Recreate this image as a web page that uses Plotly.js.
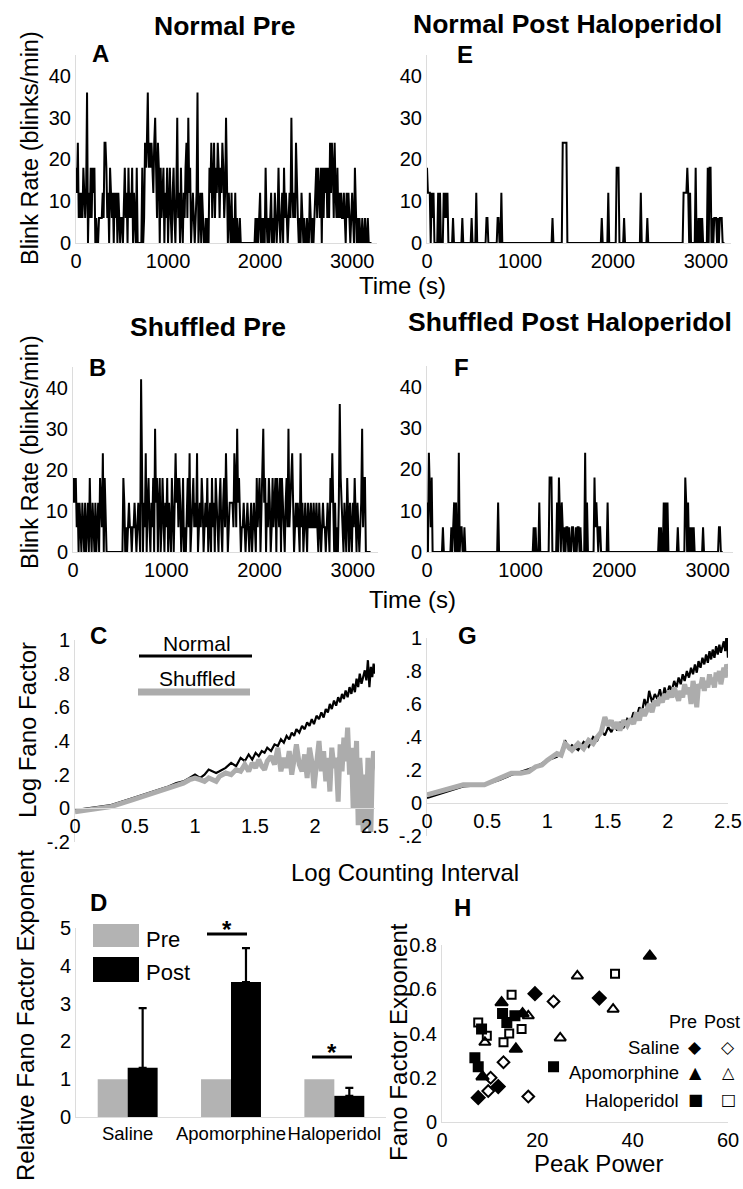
<!DOCTYPE html>
<html><head><meta charset="utf-8">
<script src="https://cdn.plot.ly/plotly-3.0.1.min.js"></script>
<style>html,body{margin:0;padding:0;background:#fff}#chart{width:743px;height:1189px}</style>
</head><body><div id="chart"></div>
<script>
// ---------------- DATA ----------------
const sampleStep = 10; // s between blink-rate samples

// A: Normal Pre (blinks/min)
const normalPre = [
18,12,24,6,12,6,12,6,18,12, 6,12,36,0,12,6,18,6,18,12, 18,0,6,0,0,6,6,6,6,12,
6,24,24,18,6,12,0,18,12,6, 12,0,12,6,12,0,12,6,0,6, 6,0,12,18,6,12,0,18,6,12,
6,18,0,12,6,0,18,0,0,0, 0,0,18,0,6,24,18,24,36,18, 24,18,24,18,12,24,30,18,6,24,
18,0,18,6,12,18,0,12,6,18, 0,12,18,6,0,12,18,6,0,12, 30,6,12,0,18,6,0,12,6,18,
24,6,30,12,18,0,6,12,6,0, 6,12,36,0,6,12,0,12,6,0, 0,6,0,6,0,18,12,24,6,18,
24,6,18,12,24,18,6,18,12,24, 18,6,12,30,6,0,12,6,0,12, 0,6,0,12,0,6,0,0,6,0,
0,0,0,0,0,0,0,0,0,0, 0,0,0,0,0,6,0,6,0,6, 12,0,6,0,6,0,18,6,0,6,
0,6,12,0,6,0,12,6,0,6, 18,6,0,6,12,0,18,6,12,6, 0,6,12,6,30,12,6,12,6,24,
12,6,0,6,0,12,6,0,6,0, 0,6,0,0,12,6,0,6,0,6, 12,18,6,18,12,6,18,0,18,6,
18,12,18,6,18,6,24,12,24,18, 6,24,12,6,18,6,12,6,12,6, 6,12,6,0,12,6,12,6,0,6,
12,6,0,18,6,0,6,0,6,0, 0,6,0,0,6,0,0,6,0,0, 0,0];

// E: Normal Post Haloperidol
const normalPost = [
18,12,12,12,0,12,6,12,0,0, 0,0,12,0,12,0,0,0,12,6, 12,6,12,0,0,0,0,0,6,0,
0,0,0,0,0,0,0,0,6,0, 0,0,0,0,0,0,0,0,6,0, 0,0,0,12,0,0,0,0,0,0,
0,0,0,0,6,6,0,0,0,0, 0,0,0,0,0,0,6,6,0,0, 12,0,0,0,0,0,0,0,0,0,
0,0,0,0,0,0,0,0,0,0, 0,0,0,0,0,0,0,0,0,0, 0,0,0,0,0,0,0,0,0,0,
0,0,0,0,0,0,0,0,0,0, 0,0,0,0,0,6,0,0,0,0, 0,0,0,0,0,0,24,24,24,24,
24,0,0,0,0,0,0,0,0,0, 0,0,0,0,0,0,0,0,0,0, 0,0,0,0,0,0,0,0,0,0,
0,0,0,0,0,0,0,0,6,0, 0,0,0,0,0,12,0,0,0,0, 0,0,0,0,18,18,18,0,0,0,
0,0,6,0,0,0,0,0,0,0, 0,0,0,0,0,0,0,0,0,0, 12,0,0,0,0,0,0,6,0,0,
0,0,0,0,0,0,0,0,0,0, 0,0,0,0,0,0,0,0,0,0, 0,0,0,0,0,0,0,0,0,0,
0,0,0,0,0,0,12,12,12,12, 18,12,0,12,0,0,0,0,0,18, 0,0,6,0,6,0,6,0,0,0,
0,0,18,0,18,18,0,6,0,6, 6,6,0,6,0,6,6,6,0,0, 0];

// B: Shuffled Pre
const shuffledPre = [
12,18,12,18,6,12,0,12,6,0, 12,6,0,12,0,6,12,0,18,6, 0,12,6,0,12,0,6,12,0,18,
12,6,24,0,18,6,0,0,0,0, 0,0,0,0,0,0,0,0,0,0, 0,0,0,0,18,12,0,6,0,6,
12,6,6,0,6,6,12,6,0,6, 12,6,0,42,12,0,12,6,24,0, 12,18,6,0,12,6,18,0,30,12,
18,0,12,18,0,6,18,6,0,12, 6,18,0,12,6,0,18,6,0,12, 24,12,18,6,18,12,0,6,18,0,
6,0,12,18,6,24,0,6,12,18, 6,12,6,24,0,6,12,6,18,12, 0,6,12,6,18,0,6,12,0,18,
6,12,0,18,12,6,0,12,18,6, 0,12,18,6,24,12,0,6,12,12, 12,12,6,24,18,6,30,12,18,6,
0,6,6,12,6,0,6,12,6,0, 6,12,0,6,12,6,0,18,6,12, 18,0,12,18,30,12,18,0,12,6,
18,12,0,6,18,6,12,18,0,18, 12,6,18,0,18,12,6,0,12,18, 6,30,6,12,18,24,12,0,6,12,
6,12,6,0,24,6,12,0,6,12, 6,0,12,6,6,12,6,6,12,6, 6,12,6,0,12,6,0,6,12,6,
6,0,6,12,6,0,18,12,24,6, 0,12,0,6,0,12,36,18,12,6, 0,12,6,0,18,6,0,12,6,0,
12,6,18,6,0,12,6,0,6,12, 30,6,18,18,0,0,0,0,0,0];

// F: Shuffled Post Haloperidol
const shuffledPost = [
12,0,24,12,6,18,0,0,0,0, 0,0,0,0,0,0,0,6,0,0, 0,0,0,0,0,0,6,0,6,12,
0,12,0,0,24,0,6,6,0,0, 6,0,0,0,0,0,0,0,0,0, 0,0,0,0,0,0,0,0,0,0,
0,0,0,0,0,0,0,0,0,0, 0,0,0,0,0,0,12,0,0,0, 0,0,0,0,0,0,0,0,0,0,
0,0,0,0,0,0,0,0,0,0, 0,0,0,0,0,0,0,0,0,0, 0,0,0,0,6,0,6,0,0,0,
12,0,0,0,0,0,0,0,0,0, 0,18,18,18,0,0,0,0,0,12, 0,18,6,0,12,6,0,6,0,6,
6,0,6,0,0,6,6,0,0,6, 0,6,6,0,6,0,0,0,0,24, 0,12,0,0,0,0,0,0,0,18,
6,12,6,0,6,6,0,0,0,0, 0,0,0,12,0,0,0,0,0,0, 0,0,0,0,0,0,0,0,0,0,
0,0,0,0,0,0,0,0,0,0, 0,0,0,0,0,0,0,0,0,0, 0,0,0,0,0,0,0,0,0,0,
0,0,0,0,0,0,0,0,6,0, 6,0,0,12,0,12,0,12,0,0, 0,0,0,0,0,0,0,0,6,0,
0,0,0,0,0,0,18,12,0,12, 0,6,0,6,0,6,0,0,0,0, 0,0,0,0,0,6,0,0,0,0,
0,0,0,0,0,0,0,0,0,0, 0,0,6,6,0,0,0];

// C / G: Fano factor vs counting interval
const countingInterval = [1,2,3,4,5,6,7,8,9,10, 11,12,13,14,15,16,18,20,22,24,
26,28,30,32,34,36,38,40,43,46, 49,52,55,58,61,64,67,70,74,78,
82,86,90,94,98,103,108,113,118,123, 128,133,138,144,150,156,162,168,174,180,
187,194,201,208,215,222,229,236,244,252, 260,268,276,284,292,300,308,316];
const fanoNormalPre = [-0.01,0.02,0.06,0.09,0.11,0.13,0.15,0.16,0.18,0.20,
0.18,0.20,0.23,0.22,0.21,0.22,0.24,0.27,0.25,0.30, 0.28,0.32,0.29,0.33,0.31,0.34,0.33,0.36,0.34,0.38,
0.37,0.41,0.39,0.43,0.41,0.45,0.43,0.47,0.45,0.49, 0.47,0.51,0.49,0.53,0.50,0.55,0.53,0.57,0.54,0.59,
0.57,0.62,0.59,0.64,0.61,0.66,0.63,0.68,0.65,0.70, 0.66,0.72,0.68,0.74,0.69,0.77,0.72,0.80,0.74,0.78,
0.82,0.76,0.88,0.72,0.84,0.78,0.86,0.80];
const fanoShuffledPre = [-0.02,0.01,0.05,0.08,0.10,0.12,0.14,0.15,0.17,0.18,
0.17,0.16,0.18,0.17,0.16,0.19,0.21,0.20,0.23,0.22, 0.26,0.22,0.27,0.24,0.29,0.25,0.23,0.28,0.31,0.26,
0.36,0.22,0.30,0.24,0.34,0.20,0.28,0.38,0.26,0.22, 0.32,0.18,0.36,0.28,0.12,0.30,0.40,0.22,0.34,0.16,
0.30,0.10,0.36,0.24,0.30,0.04,0.38,0.22,0.42,0.28, 0.48,0.20,0.36,0.00,0.26,0.40,-0.10,0.30,0.14,-0.14,
0.20,-0.12,0.30,0.05,-0.14,0.22,0.34,0.28];
const fanoNormalPost = [0.03,0.10,0.11,0.14,0.17,0.19,0.21,0.22,0.24,0.26,
0.27,0.28,0.30,0.38,0.33,0.35,0.32,0.37,0.34,0.40, 0.38,0.44,0.41,0.46,0.43,0.47,0.44,0.49,0.46,0.51,
0.49,0.55,0.52,0.58,0.55,0.63,0.58,0.68,0.61,0.66, 0.63,0.69,0.62,0.70,0.65,0.71,0.68,0.74,0.70,0.76,
0.72,0.78,0.74,0.80,0.76,0.82,0.78,0.84,0.79,0.86, 0.82,0.88,0.84,0.90,0.85,0.92,0.87,0.93,0.88,0.95,
0.90,0.96,0.91,0.94,0.98,0.92,1.03,0.88];
const fanoShuffledPost = [0.05,0.11,0.11,0.15,0.18,0.18,0.19,0.22,0.23,0.26,
0.28,0.30,0.29,0.36,0.34,0.32,0.36,0.33,0.38,0.36, 0.40,0.43,0.52,0.47,0.50,0.45,0.49,0.44,0.50,0.47,
0.51,0.48,0.55,0.50,0.57,0.53,0.56,0.60,0.55,0.62, 0.59,0.64,0.61,0.66,0.63,0.68,0.64,0.70,0.66,0.62,
0.68,0.64,0.72,0.66,0.70,0.60,0.74,0.68,0.58,0.72, 0.70,0.76,0.68,0.74,0.70,0.78,0.72,0.76,0.70,0.79,
0.74,0.80,0.72,0.78,0.82,0.76,0.84,0.81];

// D: relative Fano factor exponent
const drugs = ['Saline','Apomorphine','Haloperidol'];
const relPre = [1, 1, 1];
const relPost = [1.3, 3.57, 0.56];
const relPostErr = [1.58, 0.9, 0.21];

// H: Fano factor exponent vs peak power
const salinePreX = [7.6, 11.8, 19.5, 33.0], salinePreY = [0.11, 0.16, 0.58, 0.56];
const salinePostX = [23.4, 10.2, 9.7, 12.9, 18.1], salinePostY = [0.545, 0.20, 0.14, 0.27, 0.115];
const apoPreX = [12.5, 15.5, 8.5, 43.6, 16.9], apoPreY = [0.54, 0.33, 0.205, 0.75, 0.49];
const apoPostX = [28.4, 35.9, 24.8, 18.1, 9.0], apoPostY = [0.66, 0.51, 0.38, 0.48, 0.36];
const haloPreX = [6.9, 7.6, 8.3, 12.7, 13.6, 15.3, 23.4], haloPreY = [0.29, 0.25, 0.42, 0.49, 0.45, 0.48, 0.25];
const haloPostX = [7.6, 9.4, 14.6, 12.9, 14.1, 16.7, 36.3], haloPostY = [0.45, 0.39, 0.575, 0.36, 0.40, 0.42, 0.67];

// ---------------- LAYOUT HELPERS ----------------
const W = 743, H = 1189;
const FONT = 'Liberation Sans, Arial, Helvetica, sans-serif';
const dx = (a, b) => [a / W, b / W];
const dy = (top, bottom) => [1 - bottom / H, 1 - top / H];
const py = v => 1 - v / H;
const times = arr => arr.map((_, i) => i * sampleStep);
const logInt = countingInterval.map(v => Math.log10(v));

function axBase(extra) {
  return Object.assign({showgrid:false, zeroline:false, showline:true, linecolor:'#dcdcdc', linewidth:1,
    ticks:'', tickfont:{family:FONT, size:20, color:'#000'}, fixedrange:true}, extra);
}

const traces = [];
function ts(y, ax) {
  traces.push({x: times(y), y: y, xaxis:'x'+ax, yaxis:'y'+ax, type:'scatter', mode:'lines',
    line:{color:'#000', width:2}, hoverinfo:'skip', showlegend:false});
}
ts(normalPre, ''); ts(normalPost, 2); ts(shuffledPre, 3); ts(shuffledPost, 4);

function fano(yN, yS, ax) {
  traces.push({x: logInt, y: yN, xaxis:'x'+ax, yaxis:'y'+ax, type:'scatter', mode:'lines',
    line:{color:'#000', width:2.2}, showlegend:false});
  traces.push({x: logInt, y: yS, xaxis:'x'+ax, yaxis:'y'+ax, type:'scatter', mode:'lines',
    line:{color:'#acacac', width:5}, showlegend:false});
}
fano(fanoNormalPre, fanoShuffledPre, 5);
fano(fanoNormalPost, fanoShuffledPost, 6);

traces.push({type:'bar', x: drugs, y: relPre, xaxis:'x7', yaxis:'y7', marker:{color:'#b3b3b3'}, showlegend:false});
traces.push({type:'bar', x: drugs, y: relPost, xaxis:'x7', yaxis:'y7', marker:{color:'#000'}, showlegend:false,
  error_y:{type:'data', symmetric:false, array: relPostErr, arrayminus:[0,0,0], color:'#000', thickness:2.2, width:4}});

function sc(x, y, sym, size) {
  traces.push({type:'scatter', mode:'markers', x:x, y:y, xaxis:'x8', yaxis:'y8', showlegend:false,
    marker:{symbol:sym, size:size, color:'#000', line:{color:'#000', width:2}}});
}
sc(salinePreX, salinePreY, 'diamond', 10);
sc(salinePostX, salinePostY, 'diamond-open', 9);
sc(apoPreX, apoPreY, 'triangle-up', 11);
sc(apoPostX, apoPostY, 'triangle-up-open', 10);
sc(haloPreX, haloPreY, 'square', 9);
sc(haloPostX, haloPostY, 'square-open', 8);

const tsY = {range:[0,45], tickvals:[0,10,20,30,40]};
const tsX = {range:[0,3270], tickvals:[0,1000,2000,3000]};
const fanoY = {range:[-0.2,1.0], tickvals:[-0.2,0,0.2,0.4,0.6,0.8,1], ticktext:['-.2','0','.2','.4','.6','.8','1']};
const fanoX = {range:[0,2.5], tickvals:[0,0.5,1,1.5,2,2.5], ticktext:['0','0.5','1','1.5','2','2.5']};

const layout = {
  width: W, height: H, margin:{l:0,r:0,t:0,b:0}, paper_bgcolor:'#fff', plot_bgcolor:'rgba(0,0,0,0)',
  font:{family:FONT, color:'#000'}, showlegend:false,
  barmode:'group', bargap:0.42, bargroupgap:0,
  xaxis:  axBase(Object.assign({domain:dx(76,377), anchor:'y'}, tsX)),
  yaxis:  axBase(Object.assign({domain:dy(55,243), anchor:'x'}, tsY)),
  xaxis2: axBase(Object.assign({domain:dx(427,731), anchor:'y2'}, tsX)),
  yaxis2: axBase(Object.assign({domain:dy(55,243), anchor:'x2'}, tsY)),
  xaxis3: axBase(Object.assign({domain:dx(73,378), anchor:'y3'}, tsX)),
  yaxis3: axBase(Object.assign({domain:dy(367,552), anchor:'x3'}, tsY)),
  xaxis4: axBase(Object.assign({domain:dx(427,733), anchor:'y4'}, tsX)),
  yaxis4: axBase(Object.assign({domain:dy(366,552), anchor:'x4'}, tsY)),
  xaxis5: axBase(Object.assign({domain:dx(75,375), anchor:'free', position:py(808)}, fanoX)),
  yaxis5: axBase(Object.assign({domain:dy(640,842), anchor:'x5'}, fanoY)),
  xaxis6: axBase(Object.assign({domain:dx(427,728), anchor:'free', position:py(803)}, fanoX)),
  yaxis6: axBase(Object.assign({domain:dy(638,836), anchor:'x6'}, fanoY)),
  xaxis7: axBase({domain:dx(76,386), anchor:'y7', type:'category', range:[-0.5,2.5], tickangle:0,
    tickfont:{family:FONT,size:18.5,color:'#000'}}),
  yaxis7: axBase({domain:dy(928,1117), anchor:'x7', range:[0,5], tickvals:[0,1,2,3,4,5]}),
  xaxis8: axBase({domain:dx(442,728), anchor:'y8', range:[0,60], tickvals:[0,20,40,60]}),
  yaxis8: axBase({domain:dy(945,1122), anchor:'x8', range:[0,0.8], tickvals:[0,0.2,0.4,0.6,0.8], ticktext:['0','0.2','0.4','0.6','0.8']}),
  annotations: [], shapes: []
};

function ann(text, x, y, size, o) {
  layout.annotations.push(Object.assign({text:text, x:x/W, y:1-y/H, xref:'paper', yref:'paper', showarrow:false,
    xanchor:'center', yanchor:'middle', font:{family:FONT, size:size, color:'#000'}}, o || {}));
}
// titles
ann('<b>Normal Pre</b>', 224, 26, 26.5);
ann('<b>Normal Post Haloperidol</b>', 567, 24, 26.5);
ann('<b>Shuffled Pre</b>', 208, 327, 26.5);
ann('<b>Shuffled Post Haloperidol</b>', 570, 322, 26.5);
// panel letters
[['A',100,53],['E',465,55],['B',97,368],['F',461,367],['C',98,635],['G',467,635],['D',98,903],['H',462,907]]
  .forEach(l => ann('<b>'+l[0]+'</b>', l[1], l[2], 24));
// axis titles
ann('Blink Rate (blinks/min)', 30, 148, 23.5, {textangle:-90});
ann('Blink Rate (blinks/min)', 30, 452, 23.5, {textangle:-90});
ann('Time (s)', 402, 285, 24);
ann('Time (s)', 412, 599, 24);
ann('Log Fano Factor', 27, 730, 24, {textangle:-90});
ann('Log Counting Interval', 405, 872, 24);
ann('Relative Fano Factor Exponent', 25, 1016, 24, {textangle:-90});
ann('Fano Factor Exponent', 398, 1042, 24, {textangle:-90});
ann('Peak Power', 598, 1163, 24);
// C legend
ann('Normal', 197, 643, 21);
ann('Shuffled', 197, 678, 21);
layout.shapes.push({type:'line', xref:'paper', yref:'paper', x0:139/W, x1:252/W, y0:py(656), y1:py(656), line:{color:'#000', width:3}});
layout.shapes.push({type:'line', xref:'paper', yref:'paper', x0:138/W, x1:250/W, y0:py(692), y1:py(692), line:{color:'#acacac', width:7}});
// D legend
layout.shapes.push({type:'rect', xref:'paper', yref:'paper', x0:93/W, x1:139/W, y0:py(947), y1:py(924), fillcolor:'#b3b3b3', line:{width:0}});
layout.shapes.push({type:'rect', xref:'paper', yref:'paper', x0:93/W, x1:139/W, y0:py(982), y1:py(957), fillcolor:'#000', line:{width:0}});
ann('Pre', 144, 939, 22, {xanchor:'left'});
ann('Post', 144, 972, 22, {xanchor:'left'});
// D significance
layout.shapes.push({type:'line', xref:'paper', yref:'paper', x0:207/W, x1:247/W, y0:py(934), y1:py(934), line:{color:'#000', width:3}});
layout.shapes.push({type:'line', xref:'paper', yref:'paper', x0:312/W, x1:352/W, y0:py(1057), y1:py(1057), line:{color:'#000', width:3}});
ann('<b>*</b>', 227, 929, 24);
ann('<b>*</b>', 332, 1052, 24);
// H legend
ann('Pre', 683, 1022, 18);
ann('Post', 722, 1022, 18);
ann('Saline', 681, 1047, 18.5, {xanchor:'right'});
ann('Apomorphine', 681, 1072, 18.5, {xanchor:'right'});
ann('Haloperidol', 681, 1100, 18.5, {xanchor:'right'});
const SYM = 'DejaVu Sans, sans-serif';
ann('◆', 695, 1047, 17, {font:{family:SYM,size:17,color:'#000'}});
ann('◇', 728, 1047, 17, {font:{family:SYM,size:17,color:'#000'}});
ann('▲', 695, 1072, 16, {font:{family:SYM,size:16,color:'#000'}});
ann('△', 728, 1072, 16, {font:{family:SYM,size:16,color:'#000'}});
ann('■', 695, 1099, 16, {font:{family:SYM,size:16,color:'#000'}});
ann('□', 728, 1099, 16, {font:{family:SYM,size:16,color:'#000'}});

Plotly.newPlot('chart', traces, layout, {staticPlot:true, displayModeBar:false});
</script></body></html>
